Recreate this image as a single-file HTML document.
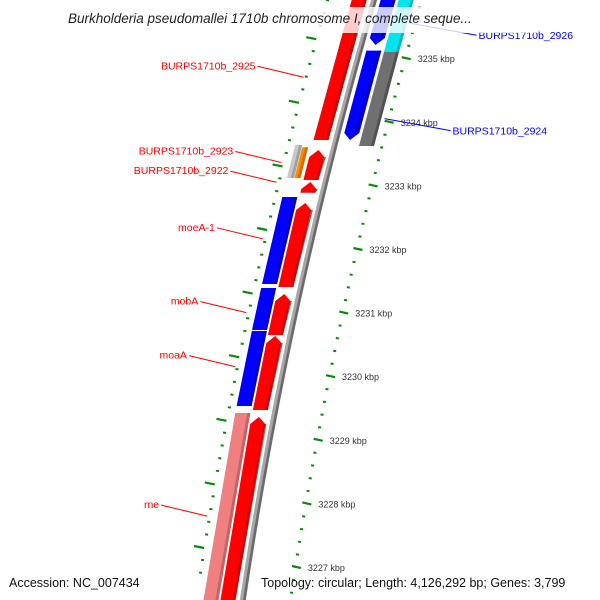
<!DOCTYPE html>
<html><head><meta charset="utf-8"><style>
html,body{margin:0;padding:0;background:#fff;}
svg{display:block;font-family:"Liberation Sans",sans-serif;}
</style></head><body>
<svg id="map" width="600" height="600" viewBox="0 0 600 600" xmlns="http://www.w3.org/2000/svg">
<g id="tracks"></g>
<g id="ticks"></g>
<g id="labels"></g>
<rect x="62" y="7" width="476" height="26" fill="#fff" opacity="0.8"/>
<text x="68" y="23" font-size="13.5" font-style="italic" fill="#222">Burkholderia pseudomallei 1710b chromosome I, complete seque...</text>
<text x="9" y="587" font-size="12.5" fill="#111">Accession: NC_007434</text>
<text x="261" y="587" font-size="12.5" fill="#111">Topology: circular; Length: 4,126,292 bp; Genes: 3,799</text>
</svg>
<script>
// Gene data (kbp)
const geneStart = [3233.714, 3233.116, 3233.116, 3233.085, 3232.884, 3231.450, 3231.403, 3230.726, 3230.648, 3229.531, 3229.469, 3226.40, 3226.40, 3235.208, 3233.714, 3235.097, 3233.620];
const geneEnd   = [3235.95, 3233.635, 3233.60, 3233.557, 3233.053, 3232.818, 3232.723, 3231.387, 3231.292, 3230.711, 3230.632, 3229.421, 3229.359, 3235.95, 3235.120, 3235.95, 3235.097];
const geneTrack = [-15, -36, -29, -15, -15, -32, -15, -32, -15, -32, -15, -32, -15, 14, 14, 32, 32];
const geneWidth = [15, 7, 6, 15, 15, 15, 15, 15, 15, 15, 15, 15, 15, 15, 15, 15, 15];
const geneArrow = ["none","none","none","up","up","none","up","none","up","none","up","none","up","down","down","none","none"];
const geneColor = ["#ff0000","#c8c8c8","#ff8c00","#ff0000","#ff0000","#0000ff","#ff0000","#0000ff","#ff0000","#0000ff","#ff0000","#f08080","#ff0000","#0000ff","#0000ff","#00e5ee","#707070"];
const geneShade = ["#b00000","#909090","#c06000","#b00000","#b00000","#0000a0","#b00000","#0000a0","#b00000","#0000a0","#b00000","#b05a5a","#b00000","#0000a0","#0000a0","#00a0a8","#454545"];
// Ruler
const majorKbp = [3227, 3228, 3229, 3230, 3231, 3232, 3233, 3234, 3235];
const majorLabels = ["3227 kbp","3228 kbp","3229 kbp","3230 kbp","3231 kbp","3232 kbp","3233 kbp","3234 kbp","3235 kbp"];
// Labels
const labelText = ["BURPS1710b_2925","BURPS1710b_2923","BURPS1710b_2922","moeA-1","mobA","moaA","rne","BURPS1710b_2926","BURPS1710b_2924"];
const labelKbp = [3234.70, 3233.36, 3233.05, 3232.16, 3231.00, 3230.15, 3227.80, 3235.55, 3234.05];

const NS="http://www.w3.org/2000/svg";
function yOf(k){return 567-(k-3227)*63.6;}
function gx(y){const d=y-300;return 298-0.2188*d+0.0001167*d*d;}
function mk(t,a,p){const e=document.createElementNS(NS,t);for(const k in a)e.setAttribute(k,a[k]);p.appendChild(e);return e;}
const T=document.getElementById('tracks'),K=document.getElementById('ticks'),L=document.getElementById('labels');

// backbone
(function(){
  let left=[],right=[];
  for(let y=-5;y<=605;y+=5){const x=gx(y);left.push((x-3)+','+y);right.unshift((x+3)+','+y);}
  const bb=mk('polygon',{points:left.concat(right).join(' '),fill:'#a8a8a8'},T);
  
  
  let r=[];for(let y=-5;y<=605;y+=5){r.push((gx(y)+1.5)+','+y);}
  mk('polyline',{points:r.join(' '),fill:'none',stroke:'#6a6a6a','stroke-width':2.5},T);
})();

// genes
for(let i=0;i<geneStart.length;i++){
  let yB=Math.min(612,yOf(geneStart[i])), yT=Math.max(-12,yOf(geneEnd[i]));
  const o=geneTrack[i],w=geneWidth[i]/2;
  const xb=gx(yB)+o,xt=gx(yT)+o;
  let pts;
  if(geneArrow[i]==='up'){
    const s=yT+7;const xs=gx(s)+o;
    pts=[[xt,yT],[xs+w,s],[xb+w,yB],[xb-w,yB],[xs-w,s]];
  }else if(geneArrow[i]==='down'){
    const s=yB-7;const xs=gx(s)+o;
    pts=[[xt-w,yT],[xt+w,yT],[xs+w,s],[xb,yB],[xs-w,s]];
  }else pts=[[xt-w,yT],[xt+w,yT],[xb+w,yB],[xb-w,yB]];
  const g=mk('polygon',{points:pts.map(p=>p.join(',')).join(' '),fill:geneColor[i]},T);
  
  
  // shade strip on right edge
  const sh=mk('polygon',{points:[[xt+w-3,yT+(geneArrow[i]==='up'?7:0)],[xt+w,yT+(geneArrow[i]==='up'?7:0)],[xb+w,yB-(geneArrow[i]==='down'?7:0)],[xb+w-3,yB-(geneArrow[i]==='down'?7:0)]].map(p=>p.join(',')).join(' '),fill:geneShade[i],opacity:0.7},T);
  
  
}

// ticks
for(let k=3226.4;k<=3236.0;k+=0.2){
  const y=yOf(k);if(y<0||y>600)continue;
  const kr=Math.round(k*10)/10;
  const isMajor=Math.abs(kr-Math.round(kr))<0.01;
  const xr=gx(y)+47;
  const t=mk('line',isMajor?{x1:xr-3,y1:y-1,x2:xr+6,y2:y+1}:{x1:xr-1,y1:y,x2:xr+2,y2:y+0.5},K);
  t.setAttribute('stroke','#0a8a0a');t.setAttribute('stroke-width',isMajor?2.2:2);
  
  
  const yl=y-20, xl=gx(yl)-47;
  const t2=mk('line',isMajor?{x1:xl-10,y1:yl-1,x2:xl,y2:yl+1}:{x1:xl-1,y1:yl,x2:xl+2,y2:yl+0.5},K);
  t2.setAttribute('stroke','#0a8a0a');t2.setAttribute('stroke-width',isMajor?2.2:2);
  
  
}
for(let i=0;i<majorKbp.length;i++){
  const y=yOf(majorKbp[i]);
  const tx=mk('text',{x:gx(y)+60,y:y+4,'font-size':9,fill:'#333'},K);
  tx.textContent=majorLabels[i];
  
  
}

// gene labels
for(let i=0;i<labelText.length;i++){
  const y=yOf(labelKbp[i]);
  const right=i>=7;
  const col=right?'#0000ff':'#ff0000';
  if(!right){
    const x2=gx(y)-49, x1=x2-46;
    const ln=mk('line',{x1:x1,y1:y-11,x2:x2,y2:y,stroke:col,'stroke-width':1},L);
    
    
    const tx=mk('text',{x:x1-2,y:y-8,'font-size':10.5,fill:col,'text-anchor':'end'},L);
    tx.textContent=labelText[i];
    
    
  }else{
    const x1=gx(y)+43, x2=x1+66;
    const ln=mk('line',{x1:x1,y1:y,x2:x2,y2:y+12,stroke:col,'stroke-width':1},L);
    
    
    const tx=mk('text',{x:x2+2,y:y+16,'font-size':10.5,fill:col},L);
    tx.textContent=labelText[i];
    
    
  }
}
</script>
</body></html>
